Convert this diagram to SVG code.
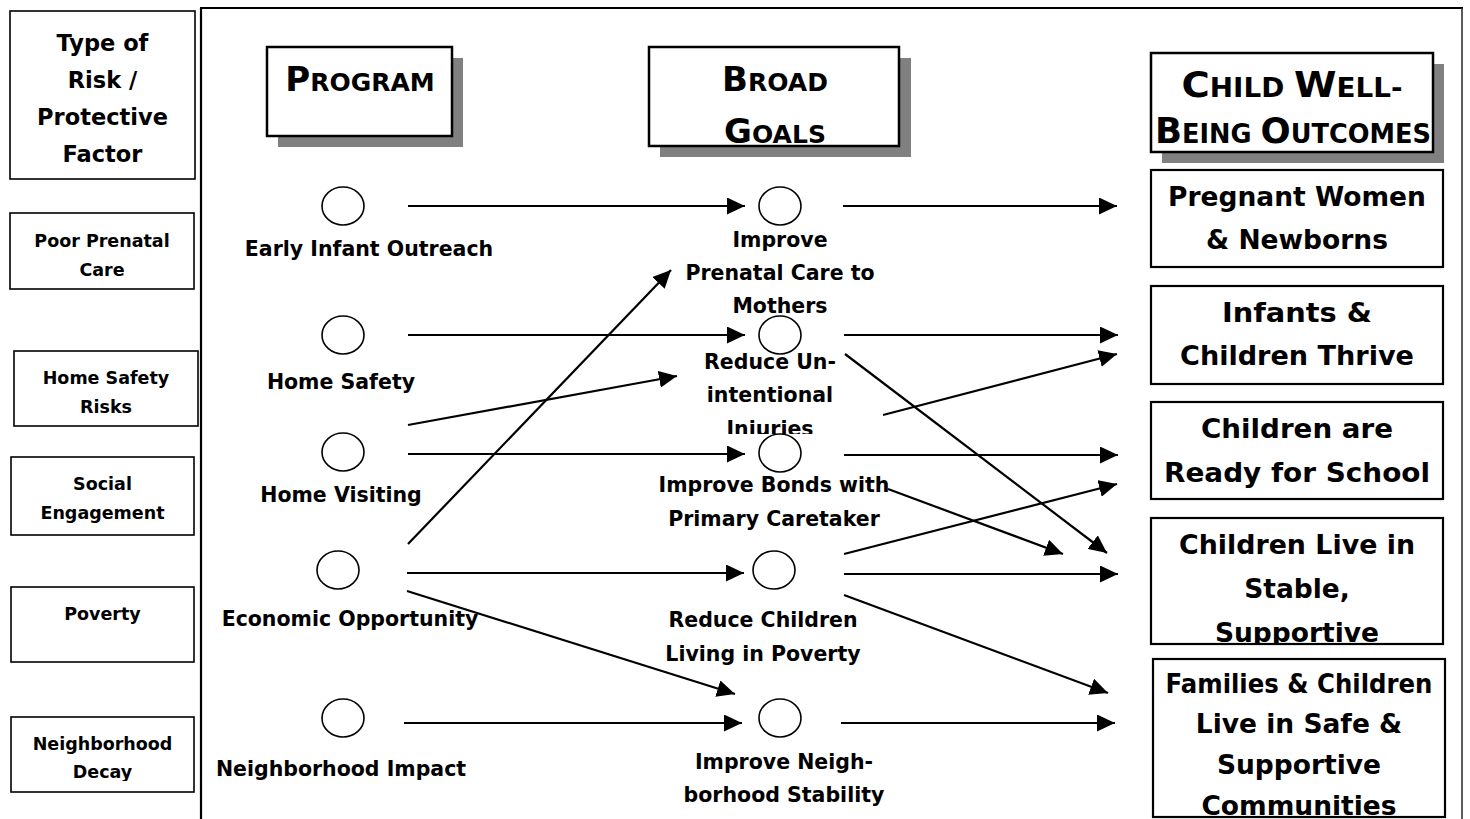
<svg xmlns="http://www.w3.org/2000/svg" width="1470" height="819" viewBox="0 0 1470 819">
<style>
text{font-family:"DejaVu Sans","Liberation Sans",sans-serif;font-weight:bold;fill:#000;text-anchor:middle}
.lf{font-size:17.5px}
.lt{font-size:22.5px}
.pl{font-size:20.5px}
.gl{font-size:20.5px}
.oc{font-size:26.5px}
.box{fill:#fff;stroke:#000;stroke-width:1.6}
.hbox{fill:#fff;stroke:#000;stroke-width:2.5}
.obox{fill:#fff;stroke:#000;stroke-width:2.2}
.shadow{fill:#808080}
.node{fill:#fff;stroke:#000;stroke-width:1.6}
.con line{stroke:#000;stroke-width:2.2;marker-end:url(#ah)}
</style>
<defs>
<marker id="ah" markerUnits="userSpaceOnUse" markerWidth="19" markerHeight="17" refX="18" refY="8.5" orient="auto">
<path d="M0,0 L18,8.5 L0,17 z" fill="#000"/>
</marker>
<clipPath id="clipInj"><rect x="650" y="400" width="250" height="34"/></clipPath>
<clipPath id="clipSup"><rect x="1150" y="600" width="295" height="43"/></clipPath>
<clipPath id="clipCom"><rect x="1150" y="780" width="295" height="35"/></clipPath>
<clipPath id="clipDec"><rect x="10" y="755" width="185" height="26"/></clipPath>
</defs>
<rect width="1470" height="819" fill="#fff"/>

<g id="frame">
<line x1="201" y1="8" x2="201" y2="819" stroke="#000" stroke-width="2.2"/>
<line x1="200" y1="8" x2="1463" y2="8" stroke="#000" stroke-width="2.2"/>
<line x1="1462" y1="8" x2="1462" y2="819" stroke="#333" stroke-width="1.6"/>
</g>

<!-- left column -->
<g id="risk-header">
<rect class="box" x="10" y="11" width="185" height="168"/>
<text class="lt" x="102.5" y="51">Type of</text>
<text class="lt" x="102.5" y="88">Risk /</text>
<text class="lt" x="102.5" y="125">Protective</text>
<text class="lt" x="102.5" y="162">Factor</text>
</g>
<g id="risk-prenatal">
<rect class="box" x="10" y="213" width="184" height="76"/>
<text class="lf" x="102" y="247">Poor Prenatal</text>
<text class="lf" x="102" y="276">Care</text>
</g>
<g id="risk-homesafety">
<rect class="box" x="14" y="351" width="184" height="75"/>
<text class="lf" x="106" y="384">Home Safety</text>
<text class="lf" x="106" y="413">Risks</text>
</g>
<g id="risk-social">
<rect class="box" x="11" y="457" width="183" height="78"/>
<text class="lf" x="102.5" y="490">Social</text>
<text class="lf" x="102.5" y="519">Engagement</text>
</g>
<g id="risk-poverty">
<rect class="box" x="11" y="587" width="183" height="75"/>
<text class="lf" x="102.5" y="620">Poverty</text>
</g>
<g id="risk-neighborhood">
<rect class="box" x="11" y="717" width="183" height="75"/>
<text class="lf" x="102.5" y="750">Neighborhood</text>
<text class="lf" x="102.5" y="778" clip-path="url(#clipDec)">Decay</text>
</g>

<!-- headers -->
<g id="hdr-program">
<rect class="shadow" x="278" y="58" width="185" height="89"/>
<rect class="hbox" x="267" y="47" width="185" height="89"/>
<text x="360" y="91"><tspan font-size="34">P</tspan><tspan font-size="25">ROGRAM</tspan></text>
</g>
<g id="hdr-goals">
<rect class="shadow" x="660" y="58" width="251" height="99"/>
<rect class="hbox" x="649" y="47" width="250" height="99"/>
<text x="775" y="91"><tspan font-size="34">B</tspan><tspan font-size="25">ROAD</tspan></text>
<text x="775" y="143"><tspan font-size="34">G</tspan><tspan font-size="25">OALS</tspan></text>
</g>
<g id="hdr-outcomes">
<rect class="shadow" x="1162" y="64" width="282" height="99"/>
<rect class="hbox" x="1151" y="53" width="282" height="99"/>
<text x="1292" y="97" textLength="221" lengthAdjust="spacingAndGlyphs"><tspan font-size="36">C</tspan><tspan font-size="26">HILD </tspan><tspan font-size="36">W</tspan><tspan font-size="26">ELL-</tspan></text>
<text x="1293" y="143" textLength="276" lengthAdjust="spacingAndGlyphs"><tspan font-size="36">B</tspan><tspan font-size="26">EING </tspan><tspan font-size="36">O</tspan><tspan font-size="26">UTCOMES</tspan></text>
</g>

<!-- program nodes -->
<g id="prog-early">
<ellipse class="node" cx="343" cy="206" rx="21" ry="19"/>
<text class="pl" x="369" y="256">Early Infant Outreach</text>
</g>
<g id="prog-homesafety">
<ellipse class="node" cx="343" cy="335" rx="21" ry="19"/>
<text class="pl" x="341" y="389">Home Safety</text>
</g>
<g id="prog-homevisiting">
<ellipse class="node" cx="343" cy="452" rx="21" ry="19"/>
<text class="pl" x="341" y="502">Home Visiting</text>
</g>
<g id="prog-economic">
<ellipse class="node" cx="338" cy="570" rx="21" ry="19"/>
<text class="pl" x="350" y="626">Economic Opportunity</text>
</g>
<g id="prog-neighborhood">
<ellipse class="node" cx="343" cy="718" rx="21" ry="19"/>
<text class="pl" x="341" y="776">Neighborhood Impact</text>
</g>

<!-- goal nodes -->
<g id="goal-prenatal">
<ellipse class="node" cx="780" cy="206" rx="21" ry="19"/>
<text class="gl" x="780" y="247">Improve</text>
<text class="gl" x="780" y="280">Prenatal Care to</text>
<text class="gl" x="780" y="313">Mothers</text>
</g>
<g id="goal-injuries">
<ellipse class="node" cx="780" cy="335" rx="21" ry="19"/>
<text class="gl" x="770" y="369">Reduce Un-</text>
<text class="gl" x="770" y="402">intentional</text>
<text class="gl" x="770" y="436" clip-path="url(#clipInj)">Injuries</text>
</g>
<g id="goal-bonds">
<ellipse class="node" cx="780" cy="453" rx="21" ry="19"/>
<text class="gl" x="774" y="492">Improve Bonds with</text>
<text class="gl" x="774" y="526">Primary Caretaker</text>
</g>
<g id="goal-poverty">
<ellipse class="node" cx="774" cy="570" rx="21" ry="19"/>
<text class="gl" x="763" y="627">Reduce Children</text>
<text class="gl" x="763" y="661">Living in Poverty</text>
</g>
<g id="goal-neighborhood">
<ellipse class="node" cx="780" cy="718" rx="21" ry="19"/>
<text class="gl" x="784" y="769">Improve Neigh-</text>
<text class="gl" x="784" y="802">borhood Stability</text>
</g>

<!-- outcomes -->
<g id="out-pregnant">
<rect class="obox" x="1151" y="170" width="292" height="97"/>
<text class="oc" x="1297" y="206">Pregnant Women</text>
<text class="oc" x="1297" y="249">&amp; Newborns</text>
</g>
<g id="out-infants">
<rect class="obox" x="1151" y="286" width="292" height="98"/>
<text class="oc" x="1297" y="322" textLength="150" lengthAdjust="spacingAndGlyphs">Infants &amp;</text>
<text class="oc" x="1297" y="365" textLength="234" lengthAdjust="spacingAndGlyphs">Children Thrive</text>
</g>
<g id="out-school">
<rect class="obox" x="1151" y="402" width="292" height="97"/>
<text class="oc" x="1297" y="438" textLength="192" lengthAdjust="spacingAndGlyphs">Children are</text>
<text class="oc" x="1297" y="482" textLength="266" lengthAdjust="spacingAndGlyphs">Ready for School</text>
</g>
<g id="out-stable">
<rect class="obox" x="1151" y="518" width="292" height="126"/>
<text class="oc" x="1297" y="554" textLength="236" lengthAdjust="spacingAndGlyphs">Children Live in</text>
<text class="oc" x="1297" y="598">Stable,</text>
<text class="oc" x="1297" y="642" clip-path="url(#clipSup)">Supportive</text>
</g>
<g id="out-families">
<rect class="obox" x="1153" y="659" width="292" height="158"/>
<text class="oc" x="1299" y="693" textLength="267" lengthAdjust="spacingAndGlyphs">Families &amp; Children</text>
<text class="oc" x="1299" y="733">Live in Safe &amp;</text>
<text class="oc" x="1299" y="774">Supportive</text>
<text class="oc" x="1299" y="815" clip-path="url(#clipCom)">Communities</text>
</g>

<g id="connectors" class="con">
<line x1="408" y1="206" x2="745" y2="206"/>
<line x1="408" y1="335" x2="745" y2="335"/>
<line x1="408" y1="454" x2="745" y2="454"/>
<line x1="407" y1="573" x2="744" y2="573"/>
<line x1="404" y1="723" x2="742" y2="723"/>
<line x1="408" y1="425" x2="677" y2="376"/>
<line x1="408" y1="544" x2="671" y2="270"/>
<line x1="407" y1="591" x2="735" y2="694"/>
<line x1="843" y1="206" x2="1117" y2="206"/>
<line x1="844" y1="335" x2="1118" y2="335"/>
<line x1="883" y1="415" x2="1117" y2="354"/>
<line x1="845" y1="354" x2="1107" y2="553"/>
<line x1="844" y1="455" x2="1118" y2="455"/>
<line x1="888" y1="489" x2="1063" y2="554"/>
<line x1="844" y1="554" x2="1117" y2="484"/>
<line x1="844" y1="574" x2="1118" y2="574"/>
<line x1="844" y1="595" x2="1108" y2="693"/>
<line x1="841" y1="723" x2="1115" y2="723"/>
</g>
</svg>
